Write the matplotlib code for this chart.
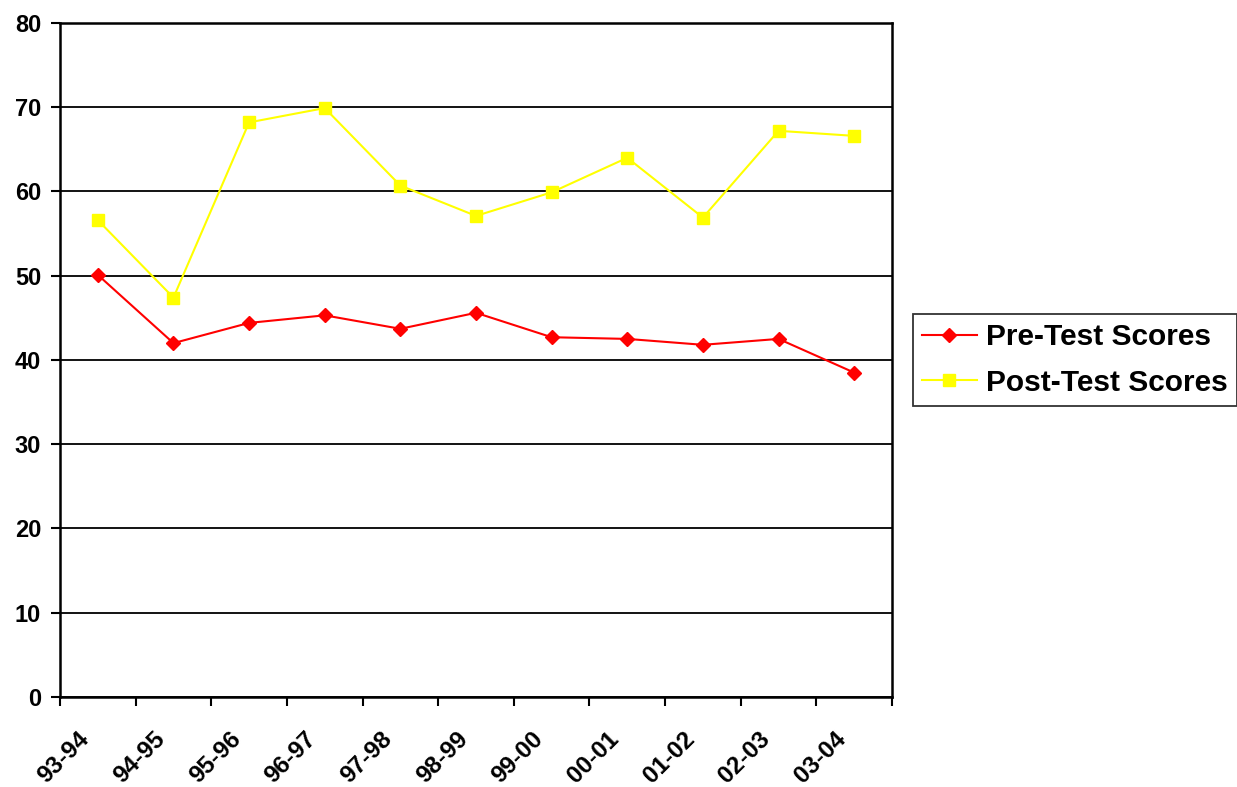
import numpy as np
import matplotlib
matplotlib.use('Agg')
from matplotlib import pyplot as plt
from matplotlib import transforms

years = ['93-94', '94-95', '95-96', '96-97', '97-98', '98-99',
         '99-00', '00-01', '01-02', '02-03', '03-04']
pre_scores = [50.1, 42.0, 44.4, 45.3, 43.7, 45.6, 42.7, 42.5, 41.8, 42.5, 38.5]
post_scores = [56.6, 47.4, 68.2, 69.9, 60.7, 57.1, 59.9, 64.0, 56.9, 67.2, 66.6]


def main():
    plt.rcParams['font.family'] = ['Liberation Sans', 'DejaVu Sans']
    plt.rcParams['font.weight'] = 'bold'

    fig = plt.figure(figsize=(12.37, 7.87), dpi=100)
    ax = fig.add_axes([0.0485, 0.1144, 0.6726, 0.8564])

    x = np.arange(len(years)) + 0.5
    ax.plot(x, pre_scores, color='#FF0000', lw=1.5, marker='D', ms=7,
            label='Pre-Test Scores', zorder=3)
    ax.plot(x, post_scores, color='#FFFF00', lw=1.5, marker='s', ms=8,
            label='Post-Test Scores', zorder=3)

    ax.set_xlim(0, len(years))
    ax.set_ylim(0, 80)
    ax.set_yticks(range(0, 81, 10))
    ax.yaxis.grid(True, color='black', lw=1.3)
    ax.set_axisbelow(True)

    # tick marks on category boundaries, labels at centres
    ax.set_xticks(np.arange(len(years) + 1))
    ax.set_xticklabels([])
    ax.set_xticks(x, minor=True)
    ax.set_xticklabels(years, minor=True, rotation=45, ha='right',
                       va='center', rotation_mode='anchor', fontsize=17.5,
                       fontweight='bold')
    ax.tick_params(axis='x', which='minor', length=0, pad=28)
    offset = transforms.ScaledTranslation(-0.12, 0, fig.dpi_scale_trans)
    for lbl in ax.xaxis.get_minorticklabels():
        lbl.set_transform(lbl.get_transform() + offset)
    ax.tick_params(axis='both', which='major', direction='out', length=6.5,
                   width=1.5, labelsize=17)
    ax.tick_params(axis='y', pad=7)
    for lbl in ax.get_yticklabels():
        lbl.set_fontweight('bold')

    for side in ax.spines.values():
        side.set_linewidth(1.8)

    leg = ax.legend(loc='center left', bbox_to_anchor=(1.025, 0.5),
                    prop={'size': 21.5, 'weight': 'bold'}, frameon=True,
                    fancybox=False, edgecolor='black', handlelength=1.85,
                    handletextpad=0.3, borderpad=0.3, labelspacing=0.6,
                    borderaxespad=0)
    leg.get_frame().set_linewidth(1.3)

    fig.savefig('out.png', dpi=100)


if __name__ == '__main__':
    main()
